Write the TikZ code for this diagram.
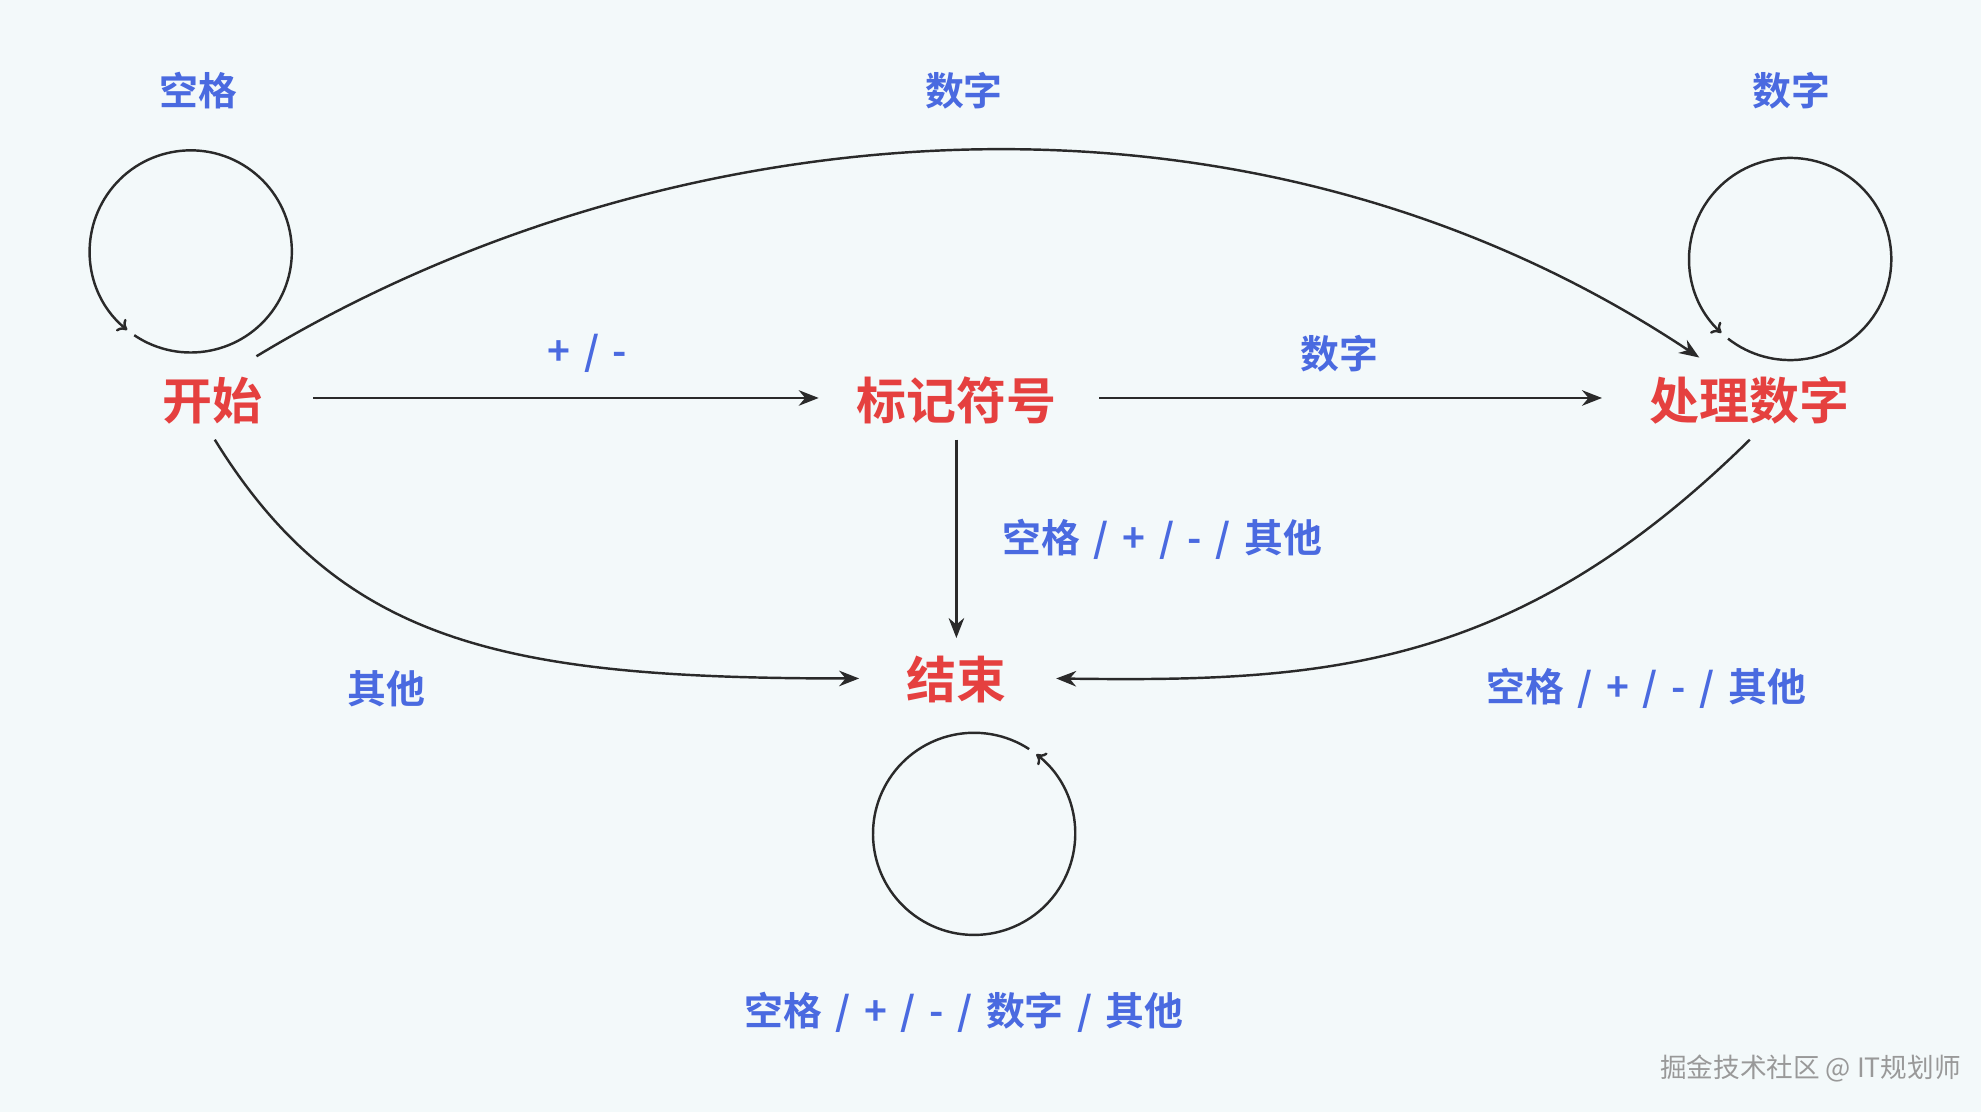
\documentclass[tikz,border=0pt]{standalone}
\usepackage{fontspec}
\setmainfont{Noto Sans CJK SC}
\newfontfamily\cjkb{Noto Sans CJK SC Bold}
\usetikzlibrary{arrows.meta}
\definecolor{bgc}{HTML}{F3F9FA}
\definecolor{redc}{HTML}{E5403F}
\definecolor{bluec}{HTML}{4A6AE0}
\definecolor{linec}{HTML}{2A2A2A}
\newcommand{\sepsl}{\hspace{0.35em}/\hspace{0.35em}}
\begin{document}
\begin{tikzpicture}[x=0.02cm,y=-0.02cm,
  st/.style={text=redc,font=\cjkb\fontsize{22.5}{26}\selectfont},
  lb/.style={text=bluec,font=\cjkb\fontsize{17.5}{20}\selectfont},
  ed/.style={draw=linec,line width=1.1pt,-{Stealth[length=9pt,width=7pt]}},
  lp/.style={draw=linec,line width=1.1pt,-{To[length=4pt,width=7pt]}}]
\fill[bgc] (0,0) rectangle (1568,880);
\useasboundingbox (0,0) rectangle (1568,880);
\node[st] (s) at (168,317) {开始};
\node[st] (m) at (757,317) {标记符号};
\node[st] (p) at (1385,317) {处理数字};
\node[st] (e) at (757,538) {结束};
\coordinate (c1) at (151,199);
\coordinate (c2) at (1417,205);
\coordinate (c3) at (771,660);
\draw[lp] (c1) ++(484:80) arc[start angle=484,end angle=129,radius=80];
\draw[lp] (c2) ++(488:80) arc[start angle=488,end angle=133,radius=80];
\draw[lp] (c3) ++(303:80) arc[start angle=303,end angle=-52,radius=80];
\node[lb] at (157,72) {空格};
\node[lb] at (763,72) {数字};
\node[lb] at (1418,72) {数字};
\node[lb] at (465,280) {+\sepsl{}-};
\node[lb] at (1060,280) {数字};
\node[lb] at (920,427) {空格\sepsl{}+\sepsl{}-\sepsl{}其他};
\node[lb] at (306,545) {其他};
\node[lb] at (1303,545) {空格\sepsl{}+\sepsl{}-\sepsl{}其他};
\node[lb] at (763,801) {空格\sepsl{}+\sepsl{}-\sepsl{}数字\sepsl{}其他};
\node[text=gray!80,font=\fontsize{12}{14}\selectfont] at (1433,846) {掘金技术社区 @ IT规划师};
\draw[ed] (203,282) .. controls (520,90) and (980,40) .. (1345,283);
\draw[ed] (248,315) -- (648,315);
\draw[ed] (870,315) -- (1268,315);
\draw[ed] (757,348) -- (757,505);
\draw[ed] (170,348) .. controls (270,510) and (400,537) .. (680,537);
\draw[ed] (1385,348) .. controls (1200,530) and (1050,540) .. (836,537);
\end{tikzpicture}
\end{document}
